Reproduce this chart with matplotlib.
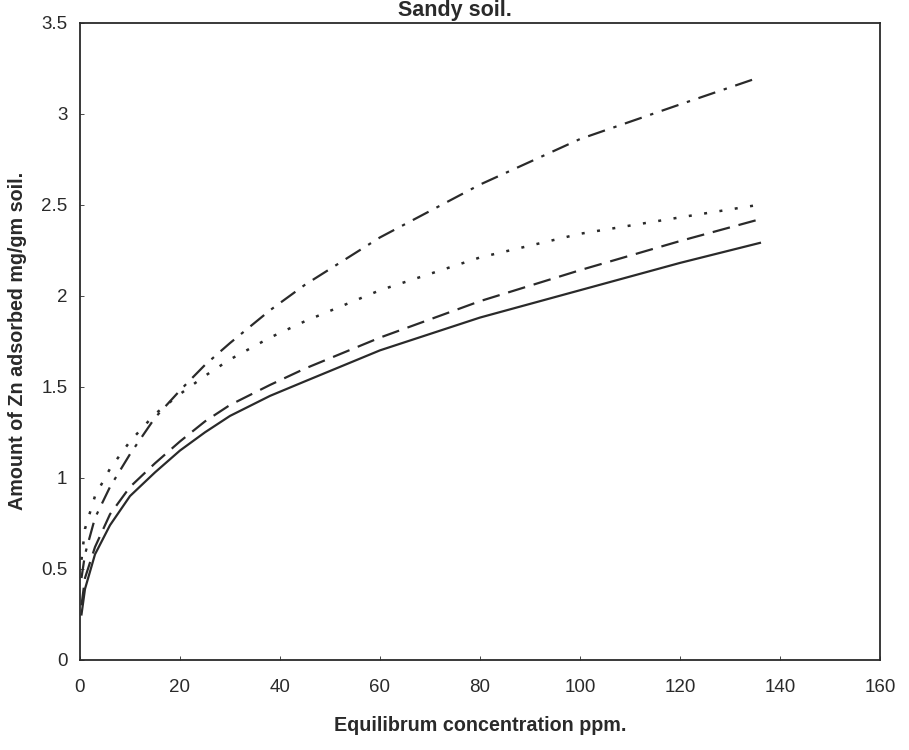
import matplotlib
matplotlib.use("Agg")
import matplotlib.pyplot as plt

plt.rcParams["font.family"] = ["Liberation Sans", "DejaVu Sans"]

# Equilibrium concentration (ppm)
conc = [0.3, 1, 3, 6, 10, 15, 20, 25, 30, 38, 45, 60, 80, 100, 120, 136]

# Zn adsorbed (mg/gm soil)
solid = [0.25, 0.39, 0.58, 0.74, 0.90, 1.03, 1.15, 1.25, 1.34, 1.45, 1.53, 1.70, 1.88, 2.03, 2.18, 2.29]
dashed = [0.30, 0.45, 0.62, 0.80, 0.95, 1.08, 1.20, 1.31, 1.40, 1.51, 1.60, 1.77, 1.97, 2.14, 2.30, 2.42]
dotted = [0.55, 0.72, 0.90, 1.05, 1.20, 1.35, 1.46, 1.56, 1.65, 1.77, 1.86, 2.03, 2.21, 2.34, 2.43, 2.50]
dashdot = [0.45, 0.58, 0.78, 0.95, 1.13, 1.33, 1.48, 1.62, 1.74, 1.92, 2.06, 2.32, 2.61, 2.86, 3.05, 3.20]

fig = plt.figure(figsize=(9.09, 7.5), dpi=100)
ax = fig.add_axes([0.088, 0.12, 0.88, 0.85])

ink = "#2a2a2a"
ax.plot(conc, solid, color=ink, lw=1.6)
ax.plot(conc, dashed, color=ink, lw=1.6, dashes=(8, 4))
ax.plot(conc, dotted, color=ink, lw=1.8, dashes=(1.2, 5))
ax.plot(conc, dashdot, color=ink, lw=1.6, dashes=(8, 4, 1.5, 4))

ax.set_xlim(0, 160)
ax.set_ylim(0, 3.5)
ax.set_xticks(range(0, 161, 20))
ax.set_yticks([0, 0.5, 1, 1.5, 2, 2.5, 3, 3.5])
ax.set_yticklabels(["0", "0.5", "1", "1.5", "2", "2.5", "3", "3.5"])
ax.tick_params(labelsize=13.5, colors=ink, length=3, width=0.6, direction="in")
ax.tick_params(axis="x", pad=14)
ax.tick_params(axis="y", pad=9)
for s in ax.spines.values():
    s.set_color(ink)
    s.set_linewidth(1.3)

ax.set_xlabel("Equilibrum concentration ppm.", fontsize=14.2, fontweight="bold",
              color=ink, labelpad=14)
ax.set_ylabel("Amount of Zn adsorbed mg/gm soil.", fontsize=14.2, fontweight="bold",
              color=ink, labelpad=10)
fig.text(0.5, 0.986, "Sandy soil.", ha="center", va="center", fontsize=15.5,
         fontweight="bold", color=ink)

fig.savefig("out.png", dpi=100, facecolor="white")
